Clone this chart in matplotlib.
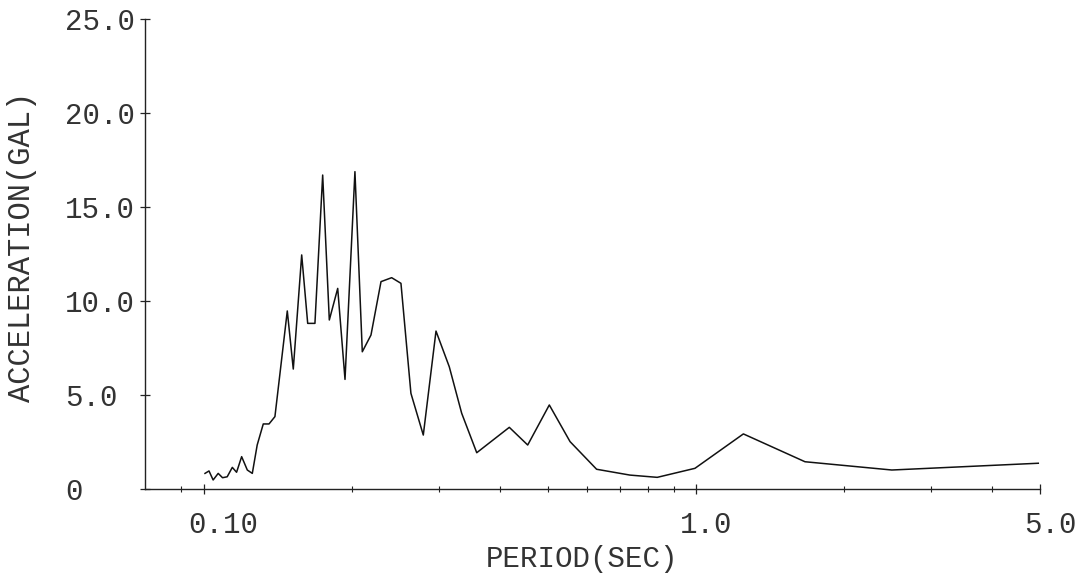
import matplotlib
matplotlib.use("Agg")
import matplotlib.pyplot as plt
import matplotlib.transforms as mtransforms
from matplotlib.ticker import FixedLocator, NullFormatter

# data
period = [0.1005, 0.1024, 0.1044, 0.1069, 0.1091, 0.1115, 0.1142, 0.1165,
          0.1193, 0.1225, 0.1254, 0.1283, 0.132, 0.1356, 0.1394, 0.1477,
          0.1519, 0.158, 0.1625, 0.1681, 0.1743, 0.1798, 0.187, 0.1935,
          0.2027, 0.2098, 0.2185, 0.229, 0.2407, 0.2514, 0.2634, 0.2791,
          0.2962, 0.3152, 0.334, 0.3584, 0.4174, 0.4549, 0.5033, 0.5546,
          0.628, 0.734, 0.834, 0.995, 1.248, 1.665, 2.5, 4.96]
accel = [0.83, 0.96, 0.48, 0.83, 0.60, 0.65, 1.15, 0.89,
         1.72, 1.01, 0.83, 2.34, 3.46, 3.46, 3.85, 9.47,
         6.38, 12.45, 8.81, 8.81, 16.7, 8.99, 10.67, 5.83,
         16.88, 7.30, 8.19, 11.03, 11.24, 10.94, 5.09, 2.87,
         8.40, 6.50, 4.03, 1.93, 3.28, 2.34, 4.47, 2.52,
         1.05, 0.74, 0.62, 1.10, 2.93, 1.45, 1.01, 1.37]

x_major = [0.1, 1.0, 5.0]
x_major_labels = ["0.10", "1.0", "5.0"]
x_minor = [0.09, 0.2, 0.3, 0.4, 0.5, 0.6, 0.7, 0.8, 0.9, 2.0, 3.0, 4.0]
y_major = [0, 5, 10, 15, 20, 25]
y_major_labels = ["0", "5.0", "10.0", "15.0", "20.0", "25.0"]

plt.rcParams['font.family'] = ['Liberation Mono', 'DejaVu Sans Mono']

fig = plt.figure(figsize=(10.87, 5.82), dpi=100)
ax = fig.add_axes([145 / 1087, 1 - 489 / 582, (1040 - 145) / 1087, (489 - 19) / 582])

ax.plot(period, accel, color='#111111', lw=1.1)

ax.set_xscale('log')
ax.set_xlim(0.0759, 5.0)
ax.set_ylim(0, 25)

for s in ('top', 'right'):
    ax.spines[s].set_visible(False)
for s in ('left', 'bottom'):
    ax.spines[s].set_linewidth(1.0)
    ax.spines[s].set_color('#222222')

ax.xaxis.set_major_locator(FixedLocator(x_major))
ax.xaxis.set_minor_locator(FixedLocator(x_minor))
ax.xaxis.set_minor_formatter(NullFormatter())
ax.set_xticks(x_major)
ax.set_xticklabels(x_major_labels)
ax.set_yticks(y_major)
ax.set_yticklabels(y_major_labels)

ax.tick_params(axis='both', which='major', direction='inout', length=7,
               width=0.9, color='#222222', labelsize=21, labelcolor='#333333')
ax.tick_params(axis='x', which='minor', direction='inout', length=5,
               width=0.8, color='#222222')
ax.tick_params(axis='x', which='major', pad=12)
ax.tick_params(axis='y', which='major', pad=54)

# labels start left of the tick, as in the plotter output
off = mtransforms.ScaledTranslation(-16 / 100, 0, fig.dpi_scale_trans)
for lab in ax.get_xticklabels():
    lab.set_horizontalalignment('left')
    lab.set_transform(lab.get_transform() + off)
for lab in ax.get_yticklabels():
    lab.set_horizontalalignment('left')

fig.text(582 / 1087, 1 - 559 / 582, "PERIOD(SEC)", ha='center', va='center',
         fontsize=21, color='#333333')
fig.text(22 / 1087, 1 - 247 / 582, "ACCELERATION(GAL)", ha='center', va='center',
         rotation=90, fontsize=22, color='#333333')

fig.savefig("out.png", dpi=100, facecolor='white')
